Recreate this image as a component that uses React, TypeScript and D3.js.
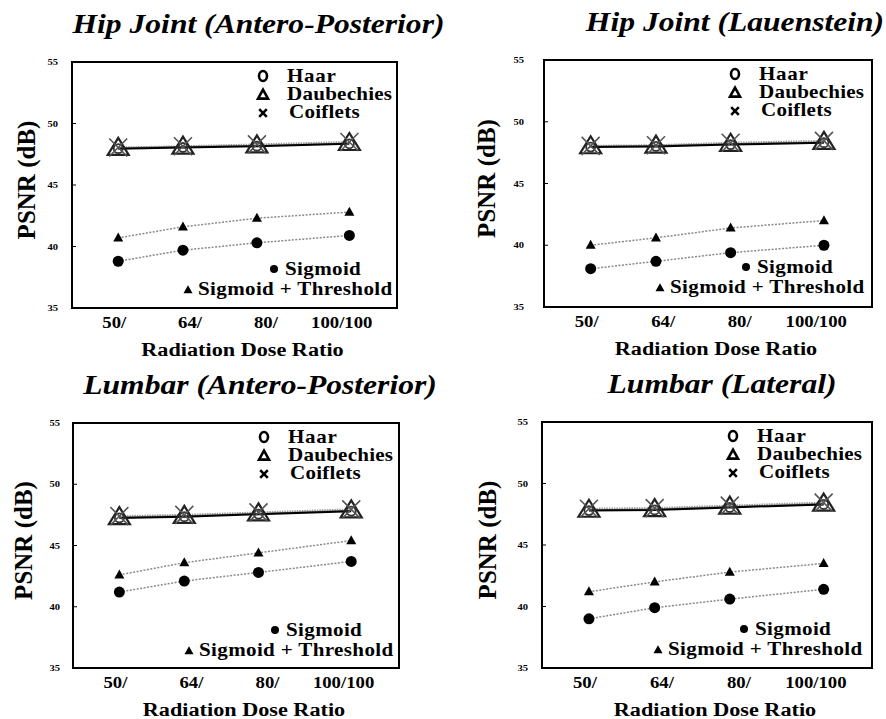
import React from 'react';
import * as d3 from 'd3';

// dose ratio (x) values and their tick labels
const doses = [50, 64, 80, 100];
const doseLabels = ['50/', '64/', '80/', '100/100'];
const yTicks = [35, 40, 45, 50, 55];

const panelTitles = [
  'Hip Joint (Antero-Posterior)',
  'Hip Joint (Lauenstein)',
  'Lumbar (Antero-Posterior)',
  'Lumbar (Lateral)',
];

// PSNR (dB) per panel, one array per method
const haarPSNR = [
  [47.95, 48.05, 48.15, 48.35],
  [47.95, 48.0, 48.15, 48.3],
  [47.25, 47.35, 47.55, 47.8],
  [47.8, 47.85, 48.05, 48.3],
];
const daubechiesPSNR = [
  [48.0, 48.1, 48.2, 48.4],
  [48.0, 48.05, 48.2, 48.35],
  [47.3, 47.4, 47.6, 47.85],
  [47.85, 47.9, 48.1, 48.35],
];
const coifletsPSNR = [
  [48.05, 48.15, 48.3, 48.5],
  [48.05, 48.1, 48.3, 48.45],
  [47.4, 47.5, 47.7, 47.95],
  [47.95, 48.0, 48.2, 48.45],
];
const sigmoidPSNR = [
  [38.8, 39.7, 40.3, 40.9],
  [38.1, 38.7, 39.4, 40.0],
  [41.2, 42.1, 42.8, 43.7],
  [39.0, 39.9, 40.6, 41.4],
];
const sigmoidThresholdPSNR = [
  [40.7, 41.6, 42.3, 42.8],
  [40.0, 40.6, 41.4, 42.0],
  [42.6, 43.6, 44.4, 45.4],
  [41.2, 42.0, 42.8, 43.5],
];

// layout of the four pasted panels
const layout = [
  { x: 72, y: 62, w: 325, h: 246, tickDx: -14, ylabDx: -37, titleDx: 24 },
  { x: 544, y: 60, w: 328, h: 247, tickDx: -20, ylabDx: -49, titleDx: 27 },
  { x: 73, y: 423, w: 326, h: 245, tickDx: -13, ylabDx: -41, titleDx: 24 },
  { x: 542, y: 422, w: 330, h: 246, tickDx: -14, ylabDx: -46, titleDx: 15 },
];

const SERIF = 'Liberation Serif, DejaVu Serif, serif';
const SX = 1.17;

type TP = {
  x: number;
  y: number;
  size: number;
  anchor?: 'start' | 'middle' | 'end';
  italic?: boolean;
  spacing?: number;
  children: React.ReactNode;
};

const SText = ({ x, y, size, anchor = 'start', italic, spacing = 0, children }: TP) => (
  <text
    transform={`translate(${x},${y}) scale(${SX},1)`}
    textAnchor={anchor}
    style={{
      fontFamily: SERIF,
      fontWeight: 700,
      fontStyle: italic ? 'italic' : 'normal',
      fontSize: size,
      letterSpacing: spacing,
    }}
    fill="#000"
  >
    {children}
  </text>
);

const triPath = (cx: number, cy: number, w: number, h: number) =>
  `M${cx},${cy - h * 0.6}L${cx + w / 2},${cy + h * 0.4}L${cx - w / 2},${cy + h * 0.4}Z`;

const xPath = (cx: number, cy: number, s: number) =>
  `M${cx - s},${cy - s}L${cx + s},${cy + s}M${cx + s},${cy - s}L${cx - s},${cy + s}`;

const Panel = ({ i }: { i: number }) => {
  const L = layout[i];
  const x = d3.scaleLinear().domain([40, 110.3]).range([0, L.w]);
  const y = d3.scaleLinear().domain([35, 55]).range([L.h, 0]);
  const xl = d3.scalePoint<string>().domain(doseLabels).range([L.w * 0.13, L.w * 0.83]);
  const line = d3
    .line<number>()
    .x((_, k) => x(doses[k]))
    .y((v) => y(v));

  const wave = [haarPSNR[i], daubechiesPSNR[i], coifletsPSNR[i]];

  return (
    <g transform={`translate(${L.x},${L.y})`}>
      <SText x={L.w / 2 + L.titleDx} y={-29} size={27} anchor="middle" italic>
        {panelTitles[i]}
      </SText>

      {/* y ticks */}
      {yTicks.map((t) => (
        <g key={t}>
          <line x1={0} x2={4} y1={y(t)} y2={y(t)} stroke="#000" strokeWidth={1} />
          <SText x={L.tickDx} y={y(t) + 3} size={9} anchor="end">
            {t}
          </SText>
        </g>
      ))}
      <text
        transform={`translate(${L.ylabDx},${L.h / 2 - 5}) rotate(-90)`}
        textAnchor="middle"
        style={{ fontFamily: SERIF, fontWeight: 700, fontSize: 25 }}
      >
        PSNR (dB)
      </text>

      {/* x labels */}
      {doseLabels.map((d) => (
        <SText key={d} x={xl(d)!} y={L.h + 20} size={16} anchor="middle">
          {d}
        </SText>
      ))}
      <SText x={L.w / 2 + 8} y={L.h + 48} size={19} anchor="middle">
        Radiation Dose Ratio
      </SText>

      {/* lower series: dotted lines */}
      {[sigmoidPSNR[i], sigmoidThresholdPSNR[i]].map((s, k) => (
        <path key={k} d={line(s)!} fill="none" stroke="#8a8a8a" strokeWidth={1.5} strokeDasharray="2,1.5" />
      ))}
      {sigmoidPSNR[i].map((v, k) => (
        <circle key={k} cx={x(doses[k])} cy={y(v)} r={5.5} fill="#000" />
      ))}
      {sigmoidThresholdPSNR[i].map((v, k) => (
        <path key={k} d={triPath(x(doses[k]), y(v), 10, 9)} fill="#000" />
      ))}

      {/* wavelet series */}
      <path d={line(wave[2])!} fill="none" stroke="#9a9a9a" strokeWidth={2} strokeDasharray="1.5,1" />
      <path d={line(wave[1])!} fill="none" stroke="#777" strokeWidth={1.5} />
      <path d={line(wave[0])!} fill="none" stroke="#000" strokeWidth={2} />
      {wave[1].map((v, k) => (
        <path key={'d' + k} d={triPath(x(doses[k]), y(v), 21, 17)} fill="none" stroke="#222" strokeWidth={2.2} />
      ))}
      {wave[0].map((v, k) => (
        <circle key={'h' + k} cx={x(doses[k])} cy={y(v)} r={4.5} fill="none" stroke="#333" strokeWidth={1.8} />
      ))}
      {wave[2].map((v, k) => (
        <path key={'c' + k} d={xPath(x(doses[k]), y(v), 9)} fill="none" stroke="#555" strokeWidth={1.6} />
      ))}

      {/* top legend */}
      <ellipse cx={191} cy={14} rx={4} ry={5} fill="none" stroke="#000" strokeWidth={2.6} />
      <SText x={215} y={20} size={18} spacing={0.6}>Haar</SText>
      <path d={triPath(191, 33, 10, 9)} fill="none" stroke="#000" strokeWidth={2.6} />
      <SText x={215} y={38} size={18} spacing={0.2}>Daubechies</SText>
      <path d={xPath(191, 51, 3.8)} fill="none" stroke="#000" strokeWidth={2.6} />
      <SText x={217} y={56} size={18} spacing={0.2}>Coiflets</SText>

      {/* bottom legend */}
      <circle cx={202} cy={207} r={4} fill="#000" />
      <SText x={213} y={213} size={18} spacing={0.3}>Sigmoid</SText>
      <path d={triPath(116, 228, 9, 8)} fill="#000" />
      <SText x={126} y={233} size={18} spacing={0.3}>Sigmoid + Threshold</SText>

      <rect x={0} y={0} width={L.w} height={L.h} fill="none" stroke="#000" strokeWidth={2} />
    </g>
  );
};

const App = () => (
  <svg
    width={886}
    height={719}
    style={{ position: 'absolute', left: 0, top: 0, background: '#fff' }}
  >
    <rect width={886} height={719} fill="#fff" />
    {layout.map((_, i) => (
      <Panel key={i} i={i} />
    ))}
  </svg>
);

export default App;
